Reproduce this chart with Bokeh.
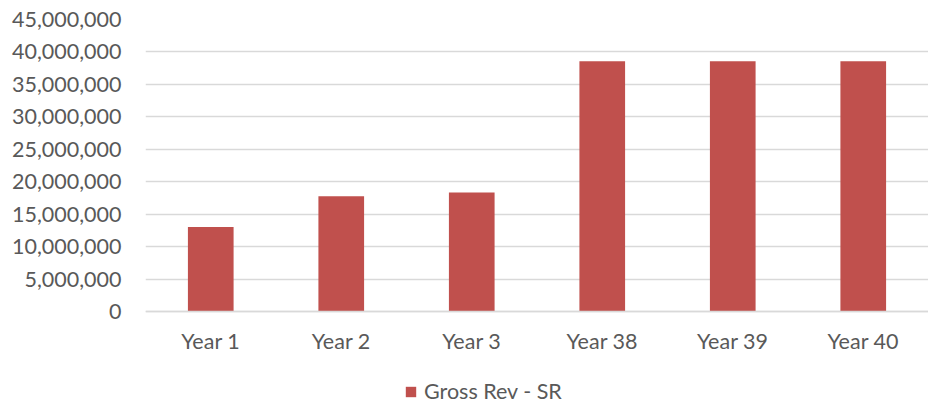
from bokeh.plotting import figure
from bokeh.models import ColumnDataSource, FactorRange, Range1d, NumeralTickFormatter, FixedTicker, Legend, LegendItem
from bokeh.embed import file_html
from bokeh.resources import INLINE

categories = ["Year 1", "Year 2", "Year 3", "Year 38", "Year 39", "Year 40"]
gross_rev_sr = [13030000, 17760000, 18330000, 38560000, 38560000, 38560000]
y_ticks = [0, 5000000, 10000000, 15000000, 20000000, 25000000, 30000000, 35000000, 40000000, 45000000]

FONT = "Lato"
TXT = "#595959"
GRID = "#D9D9D9"
BAR = "#C0504D"

# layout geometry (pixels)
TOP_PX = 19          # top gridline position
ZERO_PX = 311        # zero line position
H = 405
y_max = y_ticks[-1]
below_zero = y_max * (H - ZERO_PX) / (ZERO_PX - TOP_PX)   # room under zero for labels + legend

src = ColumnDataSource(dict(cat=categories, val=gross_rev_sr))

p = figure(width=928, height=H, x_range=FactorRange(*categories, range_padding=0.0),
           y_range=Range1d(-below_zero, y_max), output_backend="svg", toolbar_location=None,
           min_border_left=145, min_border_right=0, min_border_top=TOP_PX, min_border_bottom=0)
p.outline_line_color = None
p.background_fill_color = "white"
p.border_fill_color = "white"

r = p.vbar(x="cat", top="val", width=0.35, source=src, fill_color=BAR, line_color=None)

p.yaxis.ticker = FixedTicker(ticks=y_ticks)
p.yaxis.formatter = NumeralTickFormatter(format="0,0")
p.yaxis.axis_line_color = None
p.yaxis.major_tick_line_color = None
p.yaxis.minor_tick_line_color = None
p.yaxis.major_label_standoff = 18
p.yaxis.major_label_text_font = FONT
p.yaxis.major_label_text_font_size = "21.5px"
p.yaxis.major_label_text_color = TXT

p.xaxis.fixed_location = 0
p.xaxis.axis_line_color = GRID
p.xaxis.axis_line_width = 1.5
p.xaxis.major_tick_line_color = None
p.xaxis.minor_tick_line_color = None
p.xaxis.major_label_standoff = 10
p.xaxis.major_label_text_font = FONT
p.xaxis.major_label_text_font_size = "21.5px"
p.xaxis.major_label_text_color = TXT

p.xgrid.grid_line_color = None
p.ygrid.grid_line_color = GRID
p.ygrid.grid_line_width = 1.5

legend = Legend(items=[LegendItem(label="Gross Rev - SR", renderers=[r])],
                location=(259, 1), orientation="horizontal",
                label_text_font=FONT, label_text_font_size="21.5px", label_text_color=TXT,
                glyph_width=13, glyph_height=13, label_standoff=7,
                padding=0, margin=0, border_line_color=None, background_fill_alpha=0)
p.add_layout(legend, "center")

open("out.html", "w").write(file_html(p, INLINE))
